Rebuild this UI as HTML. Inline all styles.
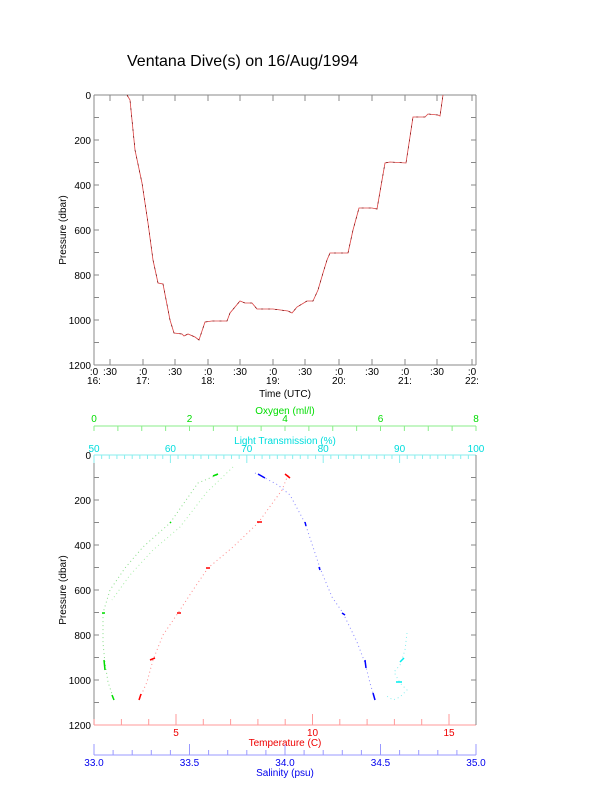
<!DOCTYPE html>
<html><head><meta charset="utf-8"><style>
html,body{margin:0;padding:0;background:#fff;}
svg{display:block;font-family:"Liberation Sans",sans-serif;}
</style></head><body>
<svg id="s" width="612" height="785" viewBox="0 0 612 785" xmlns="http://www.w3.org/2000/svg">
<rect width="612" height="785" fill="#fff"/>
<text x="127" y="66" font-size="16" fill="#000">Ventana Dive(s) on 16/Aug/1994</text>
<g id="g"></g>
<polyline fill="none" stroke="#d44" stroke-width="0.8" points="127,95 130,100 135,150 142,183 148,223 153,260 158,283 163,284 170,320 174,333 182,334 184,336 188,334 195,337 199,340 205,322 212,321 227,321 230,313 240,301 245,303 252,303 257,309 273,309 288,311 292,313 297,307 307,301 313,301 318,290 323,273 327,260 330,253 336,253 348,253 353,230 359,208 372,208 377,209 385,163 390,162 406,163 413,117 425,117 428,114 438,115 440,116 443,95"/>
<polyline fill="none" stroke="#600" stroke-width="0.6" stroke-dasharray="2 5" points="127,95 130,100 135,150 142,183 148,223 153,260 158,283 163,284 170,320 174,333 182,334 184,336 188,334 195,337 199,340 205,322 212,321 227,321 230,313 240,301 245,303 252,303 257,309 273,309 288,311 292,313 297,307 307,301 313,301 318,290 323,273 327,260 330,253 336,253 348,253 353,230 359,208 372,208 377,209 385,163 390,162 406,163 413,117 425,117 428,114 438,115 440,116 443,95"/>
<g fill="none" stroke-width="1" stroke-dasharray="1 3">
<polyline stroke="#f88" points="288,475 282,490 258,523 233,547 208,568 193,590 178,613 163,635 153,660 147,682 139,700"/>
<polyline stroke="#88f" points="255,473 265,478 278,485 290,495 305,523 320,568 332,597 343,613 357,642 365,663 370,683 375,700"/>
<polyline stroke="#8d8" points="217,475 198,483 170,523 143,547 125,568 110,590 103,613 103,643 105,663 108,682 114,700"/>
<polyline stroke="#aea" points="233,467 207,492 180,527 153,550 130,575 112,600"/>
<polyline stroke="#8ee" points="407,633 405,650 400,665 394,672 400,683 407,690 400,697 393,700 385,695"/>
</g>
<g stroke-width="1.5">
<line x1="285" y1="474" x2="290" y2="478" stroke="#f00"/><line x1="257" y1="522" x2="262" y2="522" stroke="#f00"/><line x1="206" y1="568" x2="210" y2="568" stroke="#f00"/><line x1="177" y1="613" x2="181" y2="613" stroke="#f00"/><line x1="150" y1="660" x2="155" y2="658" stroke="#f00"/><line x1="141" y1="694" x2="139" y2="700" stroke="#f00"/>
<line x1="258" y1="474" x2="265" y2="478" stroke="#00f"/><line x1="305" y1="522" x2="306" y2="526" stroke="#00f"/><line x1="319" y1="567" x2="320" y2="570" stroke="#00f"/><line x1="342" y1="613" x2="345" y2="615" stroke="#00f"/><line x1="365" y1="660" x2="366" y2="668" stroke="#00f"/><line x1="373" y1="693" x2="375" y2="700" stroke="#00f"/>
<line x1="213" y1="476" x2="218" y2="474" stroke="#0d0"/><line x1="170" y1="522" x2="171" y2="523" stroke="#0d0"/><line x1="102" y1="613" x2="105" y2="613" stroke="#0d0"/><line x1="104" y1="660" x2="105" y2="670" stroke="#0d0"/><line x1="112" y1="695" x2="114" y2="700" stroke="#0d0"/>
<line x1="400" y1="662" x2="404" y2="658" stroke="#0ee"/><line x1="396" y1="682" x2="402" y2="682" stroke="#0ee"/>
</g>
</svg>
<script>
(function(){
var g=document.getElementById('g'),h='';
function L(x1,y1,x2,y2,c){h+='<line x1="'+x1+'" y1="'+y1+'" x2="'+x2+'" y2="'+y2+'" stroke="'+c+'" stroke-width="1"/>';}
function T(x,y,s,c,a,fs){h+='<text x="'+x+'" y="'+y+'" fill="'+c+'" font-size="'+(fs||10)+'" text-anchor="'+(a||'middle')+'">'+s+'</text>';}
var X0=94,X1=476;
function frame(top){
 var bot=top+270;
 L(X0,top,X0,bot,'#888');L(X1,top,X1,bot,'#888');
 for(var i=0;i<=12;i++){var y=top+i*22.5;L(X0,y,X0+5,y,'#888');L(X1-5,y,X1,y,'#888');
  if(i%2==0)T(91,y+4,String(i*100),'#000','end');}
 h+='<text x="0" y="0" font-size="10" text-anchor="middle" transform="translate(66,'+(top+135)+') rotate(-90)">Pressure (dbar)</text>';
}
frame(95);frame(455);
L(X0,95,X1,95,'#888');L(X0,365,X1,365,'#888');
var xs=[[94,':0','16:'],[110,':30',''],[143,':0','17:'],[175,':30',''],[208,':0','18:'],[240,':30',''],[273,':0','19:'],[305,':30',''],[339,':0','20:'],[372,':30',''],[405,':0','21:'],[437,':30',''],[472,':0','22:']];
xs.forEach(function(a){L(a[0],365,a[0],359,'#888');L(a[0],95,a[0],101,'#888');T(a[0],375,a[1],'#000');if(a[2])T(a[0],384,a[2],'#000');});
T(285,397,'Time (UTC)','#000');
L(X0,426,X1,426,'#8e8');
for(var i=0;i<=16;i++){var x=X0+i*(X1-X0)/16;L(x,426,x,431,'#8e8');if(i%4==0)T(x,422,String(i/2),'#0d0');}
T(285,414,'Oxygen (ml/l)','#0d0');
L(X0,455,X1,455,'#8ee');
for(var i=0;i<=50;i++){var x=X0+i*(X1-X0)/50;L(x,455,x,(i%10==0)?463:459,'#8ee');if(i%10==0)T(x,452,String(50+i),'#0dd');}
T(285,444,'Light Transmission (%)','#0dd');
L(X0,725,X1,725,'#f99');
for(var t=2;t<=16;t++){var x=176+(t-5)*27.3;if(x>X1)break;L(x,725,x,(t%5==0)?714:719,'#f99');if(t%5==0)T(x,736,String(t),'#e00');}
T(285,746,'Temperature (C)','#e00');
L(X0,755,X1,755,'#99f');
for(var i=0;i<=20;i++){var x=X0+i*(X1-X0)/20;L(x,755,x,(i%5==0)?744:750,'#99f');if(i%5==0)T(x,766,(33+i/10).toFixed(1),'#00e');}
T(285,776,'Salinity (psu)','#00e');
L(X1,455,X1,725,'#888');
g.innerHTML=h;
})();
</script>
</body></html>
